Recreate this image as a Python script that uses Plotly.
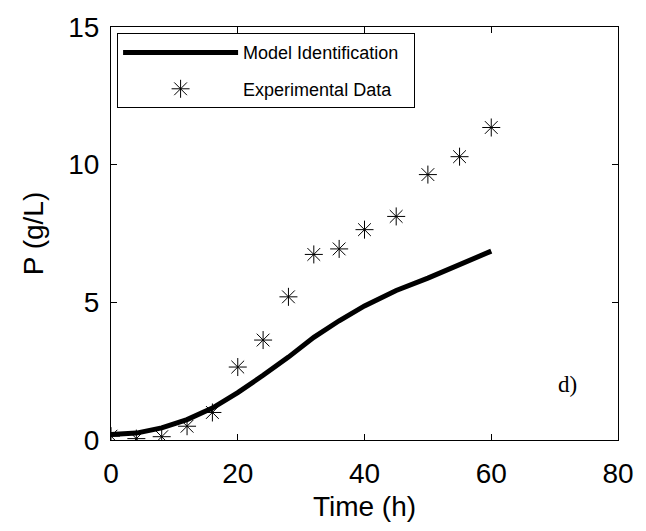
import plotly.graph_objects as go

# Model identification curve
model_t = [0, 4, 8, 12, 16, 20, 24, 28, 32, 36, 40, 45, 50, 55, 60]
model_p = [0.2, 0.25, 0.44, 0.74, 1.16, 1.72, 2.35, 3.01, 3.73, 4.33, 4.87, 5.43, 5.88, 6.38, 6.86]

# Experimental data
exp_t = [0, 4, 8, 12, 16, 20, 24, 28, 32, 36, 40, 45, 50, 55, 60]
exp_p = [0.14, 0.05, 0.12, 0.5, 1.0, 2.65, 3.63, 5.2, 6.74, 6.94, 7.64, 8.12, 9.64, 10.29, 11.35]

x_ticks = [0, 20, 40, 60, 80]
y_ticks = [0, 5, 10, 15]

FONT = "Arial, Liberation Sans"

fig = go.Figure()
fig.add_trace(go.Scatter(
    x=model_t, y=model_p, mode="lines", name="Model Identification\u00a0\u00a0",
    legendgroup="a",
    line=dict(color="black", width=5),
))
fig.add_trace(go.Scatter(
    x=exp_t, y=exp_p, mode="markers", name="Experimental Data",
    legendgroup="b",
    marker=dict(symbol="asterisk-open", size=15, color="black",
                line=dict(color="black", width=1)),
))

axis_common = dict(
    showgrid=False, zeroline=False, showline=True, linecolor="black", linewidth=1.2,
    mirror="ticks", ticks="inside", ticklen=6, tickcolor="black", tickwidth=1,
    tickfont=dict(family=FONT, size=28, color="black"),
)

fig.update_layout(
    width=646, height=531,
    margin=dict(l=110.5, r=20.3, t=22.7, b=90.5),
    paper_bgcolor="white", plot_bgcolor="white",
    xaxis=dict(range=[0, 80], tickvals=x_ticks, ticktext=[str(v) for v in x_ticks],
               ticklabelstandoff=8,
               title=dict(text="Time (h)", font=dict(family=FONT, size=28, color="black"),
                          standoff=8),
               **axis_common),
    yaxis=dict(range=[0, 15], tickvals=y_ticks, ticktext=[str(v) for v in y_ticks],
               ticklabelstandoff=5,
               title=dict(text="P (g/L)", font=dict(family=FONT, size=28, color="black"),
                          standoff=16),
               **axis_common),
    legend=dict(x=0.012, y=0.985, xanchor="left", yanchor="top",
                bgcolor="white", bordercolor="black", borderwidth=1,
                font=dict(family=FONT, size=18, color="black"),
                itemwidth=115, traceorder="grouped", tracegroupgap=10),
    showlegend=True,
    annotations=[dict(x=72, y=2.0, xref="x", yref="y", text="d)", showarrow=False,
                      font=dict(family="Liberation Serif, Times New Roman", size=23, color="black"))],
)

fig.write_html("out.html")
